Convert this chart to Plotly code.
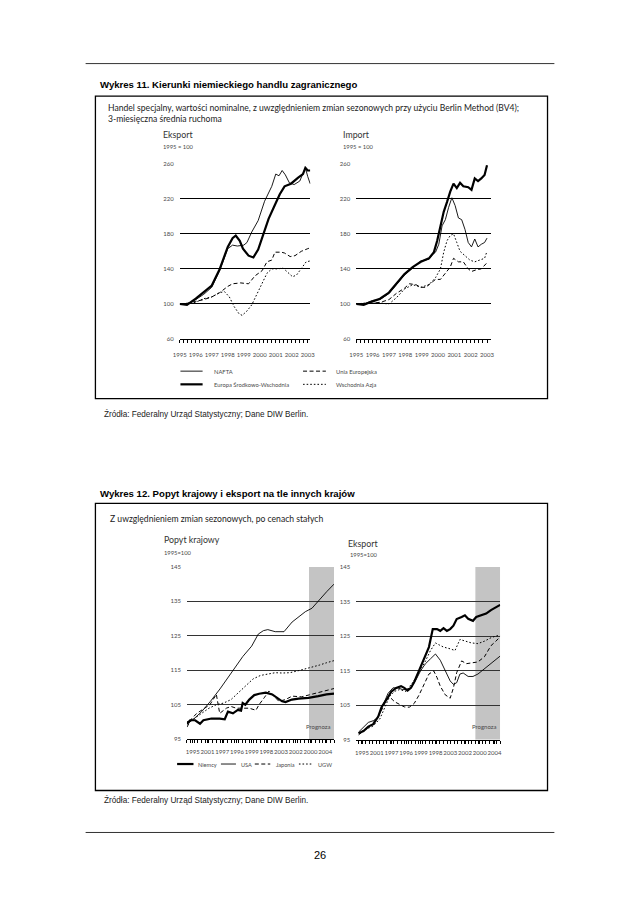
import plotly.graph_objects as go

# page is 638x903; the html body has an 8px margin, so the figure is drawn 16px smaller
OFF = 8
W, H = 638 - 2 * OFF, 903 - 2 * OFF
def P(x): return (x - OFF) / W
def Q(y): return 1 - (y - OFF) / H

# ---------------- Wykres 11 data (1995 = 100) ----------------
exp_nafta_x = [1995.0, 1995.5, 1996.0, 1996.5, 1997.0, 1997.5, 1997.8, 1998.0, 1998.3, 1998.6, 1999.0, 1999.2, 1999.5, 1999.9, 2000.3, 2000.75, 2001.0, 2001.2, 2001.4, 2001.6, 2001.85, 2002.15, 2002.5, 2002.7, 2002.85, 2003.0, 2003.15]
exp_nafta = [100, 100, 105, 111, 119, 138, 153, 163, 167, 166, 167, 170, 182, 195, 217, 234, 248, 246, 252, 247, 238, 236, 240, 248, 255, 245, 237]
exp_ceu_x = [1995.0, 1995.45, 1996.0, 1996.47, 1997.0, 1997.5, 1997.8, 1998.0, 1998.3, 1998.5, 1998.75, 1998.95, 1999.3, 1999.6, 1999.9, 2000.25, 2000.55, 2000.95, 2001.25, 2001.55, 2001.95, 2002.4, 2002.7, 2002.85, 2003.0, 2003.15]
exp_ceu = [100, 99, 106, 113, 121, 140, 155, 165, 175, 178, 172, 163, 155, 153, 162, 180, 197, 213, 225, 234, 237, 244, 248, 255, 252, 252]
exp_eu_x = [1995.0, 1995.5, 1996.0, 1996.5, 1997.0, 1997.5, 1998.0, 1998.3, 1998.8, 1999.3, 1999.7, 2000.15, 2000.45, 2000.75, 2000.95, 2001.35, 2001.55, 2001.9, 2002.2, 2002.6, 2003.0, 2003.15]
exp_eu = [100, 101, 103, 105, 108, 113, 120, 123, 124, 123, 132, 138, 148, 150, 159, 159, 158, 154, 155, 160, 163, 164]
exp_asia_x = [1995.0, 1995.5, 1996.0, 1996.5, 1997.0, 1997.5, 1997.8, 1998.1, 1998.4, 1998.7, 1998.9, 1999.2, 1999.5, 1999.85, 2000.15, 2000.45, 2000.75, 2001.15, 2001.45, 2001.75, 2002.05, 2002.3, 2002.6, 2002.9, 2003.15]
exp_asia = [100, 100, 102, 106, 108, 113, 114, 108, 97, 89, 87, 92, 99, 112, 125, 135, 140, 140, 141, 136, 131, 133, 140, 148, 149]

imp_nafta_x = [1995.0, 1995.45, 1996.0, 1996.45, 1997.0, 1997.45, 1997.95, 1998.45, 1998.95, 1999.45, 1999.65, 1999.85, 2000.05, 2000.25, 2000.45, 2000.65, 2000.85, 2001.05, 2001.25, 2001.45, 2001.65, 2001.85, 2002.05, 2002.25, 2002.45, 2002.65, 2002.85, 2003.0]
imp_nafta = [100, 100, 104, 105, 112, 122, 133, 141, 149, 151, 156, 159, 168, 189, 196, 210, 221, 212, 198, 196, 185, 170, 165, 174, 165, 168, 170, 175]
imp_ceu_x = [1995.0, 1995.45, 1996.0, 1996.45, 1997.0, 1997.45, 1997.95, 1998.45, 1998.95, 1999.45, 1999.75, 1999.95, 2000.15, 2000.35, 2000.55, 2000.75, 2000.95, 2001.15, 2001.35, 2001.55, 2001.85, 2002.05, 2002.25, 2002.45, 2002.65, 2002.85, 2003.0]
imp_ceu = [100, 99, 103, 106, 113, 123, 134, 142, 148, 152, 159, 172, 189, 205, 216, 228, 237, 232, 238, 234, 233, 230, 243, 240, 243, 247, 258]
imp_eu_x = [1995.0, 1995.5, 1996.0, 1996.5, 1997.0, 1997.45, 1997.95, 1998.25, 1998.65, 1998.95, 1999.25, 1999.55, 1999.85, 2000.15, 2000.45, 2000.75, 2000.95, 2001.25, 2001.55, 2001.85, 2002.05, 2002.35, 2002.65, 2003.0]
imp_eu = [100, 100, 101, 102, 105, 112, 118, 123, 122, 119, 119, 123, 128, 128, 135, 142, 152, 148, 148, 140, 137, 139, 140, 147]
imp_asia_x = [1995.0, 1995.5, 1996.0, 1996.5, 1997.0, 1997.45, 1997.95, 1998.45, 1998.95, 1999.45, 1999.85, 2000.15, 2000.35, 2000.55, 2000.75, 2000.95, 2001.15, 2001.35, 2001.65, 2001.95, 2002.25, 2002.55, 2002.85, 2003.0]
imp_asia = [100, 101, 101, 101, 100, 107, 117, 122, 119, 122, 130, 140, 159, 172, 178, 180, 170, 160, 155, 150, 148, 150, 152, 160]

w11_year_ticks = [1995, 1996, 1997, 1998, 1999, 2000, 2001, 2002, 2003]
w11_y_ticks = [60, 100, 140, 180, 220, 260]

# ---------------- Wykres 12 data (1995 = 100) ----------------
dom_de_x = [1995.0, 1995.22, 1995.56, 1995.89, 1996.12, 1996.67, 1997.23, 1997.57, 1997.79, 1998.13, 1998.46, 1998.68, 1998.79, 1998.97, 1999.24, 1999.58, 1999.91, 2000.36, 2000.8, 2001.14, 2001.47, 2001.7, 2002.14, 2002.59, 2003.26, 2003.93, 2004.49, 2005.0]
dom_de = [99.5, 100.5, 100.5, 99.5, 100.5, 101, 101, 100.8, 103, 102.5, 103.5, 103.3, 105.5, 105, 106.5, 107.8, 108.2, 108.5, 108, 107, 106, 105.8, 106.5, 106.8, 107, 107.5, 108, 108.2]
dom_us_x = [1995.0, 1995.5, 1996.0, 1996.6, 1997.25, 1998.15, 1998.8, 1999.4, 1999.85, 2000.2, 2000.5, 2001.0, 2001.6, 2002.15, 2002.6, 2003.05, 2003.5, 2004.0, 2004.5, 2005.0]
dom_us = [99.3, 101, 103, 106, 109.6, 115, 119, 122, 125.5, 126.5, 126.8, 126.2, 126.2, 129, 130.5, 132, 133, 135.5, 137.8, 140]
dom_jp_x = [1995.0, 1995.33, 1995.67, 1996.1, 1996.56, 1997.0, 1997.23, 1997.68, 1998.0, 1998.35, 1998.8, 1999.24, 1999.69, 1999.9, 2000.25, 2000.58, 2000.8, 2001.25, 2001.7, 2002.15, 2002.8, 2003.5, 2004.15, 2005.0]
dom_jp = [98.5, 101, 102.5, 103.6, 105, 108, 102.5, 104, 104.5, 104, 104, 104, 103.4, 105, 107, 109, 108, 106, 106.5, 107.5, 107.3, 108, 108.8, 109.7]
dom_ugw_x = [1995.0, 1995.5, 1996.0, 1996.5, 1997.0, 1997.5, 1998.0, 1998.5, 1999.0, 1999.5, 2000.0, 2000.5, 2001.0, 2001.5, 2002.0, 2002.5, 2003.0, 2003.5, 2004.0, 2004.5, 2005.0]
dom_ugw = [100, 101, 102.5, 104, 105, 105.5, 106.5, 108.5, 110.5, 112.5, 113.5, 114, 114.3, 114.2, 114.3, 114.8, 115.3, 115.8, 116.5, 117.2, 117.8]

ex_de_x = [1995.0, 1995.35, 1995.69, 1996.04, 1996.39, 1996.62, 1996.96, 1997.31, 1997.66, 1998.0, 1998.23, 1998.46, 1998.7, 1998.93, 1999.27, 1999.62, 1999.97, 2000.24, 2000.54, 2000.77, 2001.0, 2001.24, 2001.47, 2001.7, 2001.93, 2002.28, 2002.51, 2002.74, 2003.08, 2003.31, 2003.66, 2004.01, 2004.35, 2004.7, 2005.0]
ex_de = [96.9, 97.5, 98.8, 99.5, 101.7, 104.4, 106.5, 108.9, 110, 110.5, 110, 109.2, 110, 111.7, 115, 118.4, 121.8, 127, 127, 126.5, 127.3, 126.5, 127, 128, 129.9, 130.5, 131, 130, 129.4, 130.5, 131, 131.5, 132.5, 133.3, 134]
ex_us_x = [1995.0, 1995.35, 1995.69, 1996.04, 1996.39, 1996.73, 1997.08, 1997.43, 1997.77, 1998.12, 1998.35, 1998.7, 1999.04, 1999.39, 1999.73, 2000.08, 2000.43, 2000.77, 2001.12, 2001.47, 2001.7, 2001.93, 2002.16, 2002.39, 2002.74, 2003.08, 2003.43, 2003.89, 2004.35, 2005.0]
ex_us = [97.2, 98.5, 100, 100.5, 101.5, 105, 108.4, 110, 110, 109.5, 109.5, 110, 112.2, 115, 117, 118.4, 119.8, 118, 115, 112, 111, 111.5, 114, 114.3, 113.3, 113.3, 114, 115.5, 117, 119.2]
ex_jp_x = [1995.0, 1995.35, 1995.81, 1996.27, 1996.62, 1996.96, 1997.19, 1997.54, 1997.89, 1998.23, 1998.58, 1998.93, 1999.27, 1999.62, 1999.97, 2000.31, 2000.54, 2000.77, 2001.12, 2001.47, 2001.7, 2001.93, 2002.28, 2002.62, 2002.97, 2003.43, 2003.89, 2004.35, 2004.7, 2005.0]
ex_jp = [96.4, 97.5, 99, 101, 103.5, 106.5, 107.4, 106, 105.3, 104.5, 104.4, 105.5, 107.9, 111, 114, 114.9, 113, 110.5, 108, 107, 110, 114.4, 117.8, 117, 117.2, 117.5, 119, 122.2, 123.5, 124.8]
ex_ugw_x = [1995.0, 1995.58, 1996.04, 1996.5, 1996.85, 1997.19, 1997.54, 1997.89, 1998.35, 1998.81, 1999.27, 1999.73, 2000.08, 2000.43, 2000.66, 2001.0, 2001.47, 2001.81, 2002.16, 2002.51, 2002.97, 2003.43, 2003.89, 2004.35, 2004.7, 2005.0]
ex_ugw = [97, 98, 99, 101, 104.5, 107.5, 109, 109.5, 109, 111.5, 114.5, 117.8, 120.8, 123, 122.5, 121.8, 121.3, 120.8, 124, 123.5, 123, 122.8, 123.5, 124.5, 125, 125.2]

w12_tick_text = ['1995', '2001', '1997', '1996', '1999', '1998', '2003', '2002', '2000', '2004']
w12_y_ticks = [95, 105, 115, 125, 135, 145]
forecast_start_left = 2003.3
forecast_start_right = 2003.25

# ---------------- styling ----------------
TXT = '#4a4a4a'
CF = 'Lato'
HF = 'Liberation Sans'
S_THIN = dict(color='black', width=0.9)
S_THICK = dict(color='black', width=2.2)
S_DASH = dict(color='black', width=1.0, dash='4px,2.5px')
S_DOT = dict(color='black', width=1.0, dash='1.6px,2px')

fig = go.Figure()

def add(x, y, ax, style, name):
    fig.add_trace(go.Scatter(x=x, y=y, mode='lines', line=style, name=name,
                             xaxis='x' + ax, yaxis='y' + ax, showlegend=False,
                             hoverinfo='skip'))

# Wykres 11
add(exp_eu_x, exp_eu, '', S_DASH, 'Unia Europejska')
add(exp_asia_x, exp_asia, '', S_DOT, 'Wschodnia Azja')
add(exp_nafta_x, exp_nafta, '', S_THIN, 'NAFTA')
add(exp_ceu_x, exp_ceu, '', S_THICK, 'Europa Środkowo-Wschodnia')
add(imp_eu_x, imp_eu, '2', S_DASH, 'Unia Europejska')
add(imp_asia_x, imp_asia, '2', S_DOT, 'Wschodnia Azja')
add(imp_nafta_x, imp_nafta, '2', S_THIN, 'NAFTA')
add(imp_ceu_x, imp_ceu, '2', S_THICK, 'Europa Środkowo-Wschodnia')
# Wykres 12
add(dom_jp_x, dom_jp, '3', S_DASH, 'Japonia')
add(dom_ugw_x, dom_ugw, '3', S_DOT, 'UGW')
add(dom_us_x, dom_us, '3', S_THIN, 'USA')
add(dom_de_x, dom_de, '3', S_THICK, 'Niemcy')
add(ex_jp_x, ex_jp, '4', S_DASH, 'Japonia')
add(ex_ugw_x, ex_ugw, '4', S_DOT, 'UGW')
add(ex_us_x, ex_us, '4', S_THIN, 'USA')
add(ex_de_x, ex_de, '4', S_THICK, 'Niemcy')

tickfont = dict(family=CF, size=6, color=TXT)

def xax(dom, rng, tv, tt, anchor, standoff):
    return dict(domain=dom, range=rng, anchor=anchor, showgrid=False, zeroline=False,
                showline=True, linecolor='black', linewidth=1,
                tickmode='array', tickvals=tv, ticktext=tt, ticks='outside', tickangle=0,
                ticklen=3, tickwidth=0.8, tickcolor='black', tickfont=tickfont,
                ticklabelstandoff=standoff,
                minor=dict(ticks='outside', ticklen=3, tickwidth=0.8, tickcolor='black',
                           tick0=1995, dtick=0.25, showgrid=False))

def yax(dom, rng, tv, anchor, gridcolor, gw):
    return dict(domain=dom, range=rng, anchor=anchor, showgrid=True, gridcolor=gridcolor,
                gridwidth=gw, zeroline=False, showline=False, tickmode='array',
                tickvals=tv, ticktext=[str(v) for v in tv], ticks='', tickfont=tickfont,
                ticklabelstandoff=5)

w12_left_pos = [1995.4 + i for i in range(len(w12_tick_text))]
w12_right_pos = [1995.24 + 1.04 * i for i in range(len(w12_tick_text))]

fig.update_layout(
    width=W, height=H, margin=dict(l=0, r=0, t=0, b=0),
    paper_bgcolor='white', plot_bgcolor='rgba(0,0,0,0)',
    xaxis=xax([P(176), P(309.3)], [1995, 2003.17], w11_year_ticks, [str(v) for v in w11_year_ticks], 'y', 7),
    yaxis=yax([Q(337.7), Q(160.7)], [60, 260], w11_y_ticks, 'x', 'black', 1),
    xaxis2=xax([P(356), P(493.3)], [1995, 2003.24], w11_year_ticks, [str(v) for v in w11_year_ticks], 'y2', 7),
    yaxis2=yax([Q(337.7), Q(160.7)], [60, 260], w11_y_ticks, 'x2', 'black', 1),
    xaxis3=xax([P(183.3), P(333.3)], [1995, 2005.0], w12_left_pos, w12_tick_text, 'y3', 4),
    yaxis3=yax([Q(741), Q(567.3)], [95, 145], w12_y_ticks, 'x3', '#333333', 0.8),
    xaxis4=xax([P(356), P(502.7)], [1994.84, 2005.0], w12_right_pos, w12_tick_text, 'y4', 4),
    yaxis4=yax([Q(741.5), Q(567.3)], [95, 145], w12_y_ticks, 'x4', '#333333', 0.8),
)

shapes = []
# forecast shading
shapes.append(dict(type='rect', xref='x3', yref='y3', x0=forecast_start_left, x1=2005.0, y0=95, y1=145,
                   fillcolor='#c4c4c4', line=dict(width=0), layer='below'))
shapes.append(dict(type='rect', xref='x4', yref='y4', x0=forecast_start_right, x1=2005.0, y0=95, y1=145,
                   fillcolor='#c4c4c4', line=dict(width=0), layer='below'))

def pline(x0, y0, x1, y1, w=1, color='black', dash='solid'):
    shapes.append(dict(type='line', xref='paper', yref='paper', x0=P(x0), y0=Q(y0), x1=P(x1), y1=Q(y1),
                       line=dict(color=color, width=w, dash=dash)))

def prect(x0, y0, x1, y1, w=1.3):
    shapes.append(dict(type='rect', xref='paper', yref='paper', x0=P(x0), y0=Q(y0), x1=P(x1), y1=Q(y1),
                       line=dict(color='black', width=w), fillcolor='rgba(0,0,0,0)'))

# page rules
pline(80, 60, 558, 60, 1, '#333')
pline(80, 835, 558, 835, 1, '#333')
# figure frames
prect(90, 92.7, 551, 397.7)
prect(90, 503.3, 551, 792.7)

# legend samples Wykres 11
pline(176.7, 370, 199.3, 370, S_THIN['width'])
pline(176.7, 383.3, 199.3, 383.3, S_THICK['width'])
pline(301.7, 370, 325, 370, 1, dash=S_DASH['dash'])
pline(301.7, 383.3, 325, 383.3, 1, dash=S_DOT['dash'])
# legend samples Wykres 12
pline(173.3, 766, 190, 766, S_THICK['width'])
pline(218, 766, 233.3, 766, S_THIN['width'])
pline(252.5, 766, 268.3, 766, 1, dash=S_DASH['dash'])
pline(297.5, 766, 311.7, 766, 1, dash=S_DOT['dash'])

fig.update_layout(shapes=shapes)

ann = []
def text(x, y, s, size, family=CF, color=TXT, anchor='left', bold=False):
    if bold:
        s = '<b>' + s + '</b>'
    ann.append(dict(xref='paper', yref='paper', x=P(x), y=Q(y), text=s, showarrow=False,
                    xanchor=anchor, yanchor='middle', font=dict(family=family, size=size, color=color)))

text(92.5, 80.7, 'Wykres 11. Kierunki niemieckiego handlu zagranicznego', 9.6, HF, 'black', bold=True)
text(100.5, 104.3, 'Handel specjalny, wartości nominalne, z uwzględnieniem zmian sezonowych przy użyciu Berlin Method (BV4);', 8.6, CF, '#222')
text(100.5, 116, '3-miesięczna średnia ruchoma', 8.6, CF, '#222')
text(157.3, 131.7, 'Eksport', 8.8, CF, '#333')
text(157.3, 144, '1995 = 100', 5.8, CF, TXT)
text(340, 131.7, 'Import', 8.8, CF, '#333')
text(340, 144, '1995 = 100', 5.8, CF, TXT)
text(209.3, 370, 'NAFTA', 5.8)
text(209.3, 383.3, 'Europa Środkowo-Wschodnia', 5.8)
text(333.3, 370, 'Unia Europejska', 5.8)
text(333.3, 383.3, 'Wschodnia Azja', 5.8)
text(97, 413, 'Źródła: Federalny Urząd Statystyczny; Dane DIW Berlin.', 8.2, HF, '#222')

text(92.5, 493.3, 'Wykres 12. Popyt krajowy i eksport na tle innych krajów', 9.6, HF, 'black', bold=True)
text(103, 519.3, 'Z uwzględnieniem zmian sezonowych, po cenach stałych', 8.6, CF, '#222')
text(158, 539.3, 'Popyt krajowy', 8.8, CF, '#333')
text(158, 553, '1995=100', 5.8, CF, TXT)
text(346, 543.5, 'Eksport', 8.8, CF, '#333')
text(348, 555, '1995=100', 5.8, CF, TXT)
text(332, 728.3, 'Prognoza', 6, CF, TXT, anchor='right')
text(502, 728.3, 'Prognoza', 6, CF, TXT, anchor='right')
text(193, 766, 'Niemcy', 5.6)
text(236.7, 766, 'USA', 5.6)
text(271.7, 766, 'Japonia', 5.6)
text(315, 766, 'UGW', 5.6)
text(97, 802, 'Źródła: Federalny Urząd Statystyczny; Dane DIW Berlin.', 8.2, HF, '#222')

text(319, 858, '26', 11, HF, 'black', anchor='center')

fig.update_layout(annotations=ann)
fig.write_html('out.html')
